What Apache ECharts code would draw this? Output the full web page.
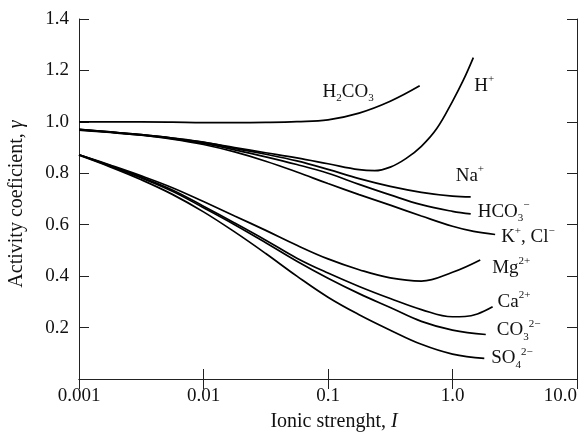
<!DOCTYPE html>
<html>
<head>
<meta charset="utf-8">
<script src="https://cdn.jsdelivr.net/npm/echarts@6/dist/echarts.min.js"></script>
<style>html,body{margin:0;padding:0;background:#fff;}#c{width:579px;height:432px;}</style>
</head>
<body>
<div id="c"></div>
<script>
// x tick labels (log axis decades)
const xTickValues = [0.001, 0.01, 0.1, 1, 10];
const xTickLabels = ['0.001', '0.01', '0.1', '1.0', '10.0'];

// Ionic strength (I) and activity coefficient (gamma) per species
const I_H2CO3 = [0.001, 0.001778, 0.003162, 0.005623, 0.01, 0.01778, 0.03162, 0.05623, 0.1, 0.1778, 0.3162, 0.545];
const G_H2CO3 = [1.0, 1.0, 1.0, 0.999, 0.997, 0.997, 0.998, 1.001, 1.008, 1.034, 1.08, 1.14];

const I_H = [0.001, 0.001778, 0.003162, 0.005623, 0.01, 0.01778, 0.03162, 0.05623, 0.1, 0.1778, 0.237, 0.3162, 0.422, 0.5623, 0.75, 1.0, 1.216, 1.47];
const G_H = [0.971, 0.961, 0.95, 0.937, 0.92, 0.9, 0.88, 0.86, 0.837, 0.814, 0.81, 0.824, 0.857, 0.905, 0.975, 1.08, 1.16, 1.25];

const I_Na = [0.001, 0.001778, 0.003162, 0.005623, 0.01, 0.01778, 0.03162, 0.05623, 0.1, 0.1778, 0.3162, 0.5623, 1.0, 1.4];
const G_Na = [0.971, 0.961, 0.95, 0.937, 0.921, 0.897, 0.874, 0.848, 0.815, 0.779, 0.749, 0.726, 0.711, 0.708];

const I_HCO3 = [0.001, 0.001778, 0.003162, 0.005623, 0.01, 0.01778, 0.03162, 0.05623, 0.1, 0.1778, 0.3162, 0.5623, 1.0, 1.4];
const G_HCO3 = [0.97, 0.96, 0.949, 0.935, 0.916, 0.891, 0.864, 0.834, 0.80, 0.757, 0.716, 0.678, 0.652, 0.642];

const I_KCl = [0.001, 0.001778, 0.003162, 0.005623, 0.01, 0.01778, 0.03162, 0.05623, 0.1, 0.1778, 0.3162, 0.5623, 1.0, 1.479, 2.2];
const G_KCl = [0.968, 0.959, 0.948, 0.933, 0.912, 0.883, 0.847, 0.805, 0.76, 0.717, 0.676, 0.634, 0.594, 0.574, 0.562];

const I_Mg = [0.001, 0.001778, 0.003162, 0.005623, 0.01, 0.01778, 0.03162, 0.05623, 0.1, 0.1778, 0.3162, 0.5623, 1.0, 1.67];
const G_Mg = [0.872, 0.832, 0.79, 0.744, 0.69, 0.634, 0.578, 0.52, 0.467, 0.425, 0.393, 0.381, 0.415, 0.463];

const I_Ca = [0.001, 0.001778, 0.003162, 0.005623, 0.01, 0.01778, 0.03162, 0.05623, 0.1, 0.1778, 0.3162, 0.5623, 1.0, 1.26, 1.585, 2.1];
const G_Ca = [0.872, 0.83, 0.785, 0.735, 0.672, 0.607, 0.54, 0.47, 0.412, 0.36, 0.313, 0.27, 0.242, 0.243, 0.253, 0.281];

const I_CO3 = [0.001, 0.001778, 0.003162, 0.005623, 0.01, 0.01778, 0.03162, 0.05623, 0.1, 0.1778, 0.3162, 0.5623, 1.0, 1.85];
const G_CO3 = [0.872, 0.828, 0.782, 0.73, 0.666, 0.6, 0.53, 0.458, 0.392, 0.332, 0.278, 0.224, 0.19, 0.173];

const I_SO4 = [0.001, 0.001778, 0.003162, 0.005623, 0.01, 0.01778, 0.03162, 0.05623, 0.1, 0.1778, 0.3162, 0.5623, 1.0, 1.8];
const G_SO4 = [0.87, 0.825, 0.775, 0.718, 0.65, 0.572, 0.488, 0.4, 0.318, 0.25, 0.19, 0.135, 0.097, 0.08];

const FONT = '"Liberation Serif", "Times New Roman", serif';
const FS = 19;
const NFS = 20;

const rich = {
  t: { fontFamily: FONT, fontSize: 19, color: '#111', lineHeight: 24, verticalAlign: 'middle' },
  sub: { fontFamily: FONT, fontSize: 11, color: '#111', lineHeight: 11, verticalAlign: 'bottom' },
  sup: { fontFamily: FONT, fontSize: 11, color: '#111', lineHeight: 11, verticalAlign: 'top' }
};

function zip(xs, ys) { return xs.map((x, i) => [x, ys[i]]); }

function mk(name, xs, ys, label, offset, align) {
  return {
    name: name,
    type: 'line',
    data: zip(xs, ys),
    smooth: 0.4,
    showSymbol: false,
    symbol: 'none',
    lineStyle: { color: '#000', width: 1.7 },
    xAxisIndex: 0, yAxisIndex: 0,
    silent: true,
    endLabel: {
      show: true,
      formatter: label,
      offset: offset,
      align: align || 'left',
      distance: 4,
      rich: rich
    }
  };
}

const chart = echarts.init(document.getElementById('c'), null, { renderer: 'canvas' });

const axisLineStyle = { color: '#222', width: 1 };

chart.setOption({
  animation: false,
  backgroundColor: '#fff',
  grid: { left: 79, right: 2, top: 19, bottom: 53, containLabel: false, outerBoundsMode: 'none' },
  xAxis: [
    {
      type: 'log', logBase: 10, min: 0.001, max: 10,
      position: 'bottom',
      name: '{a|Ionic strenght, }{i|I}',
      nameLocation: 'middle', nameGap: 33,
      nameTextStyle: {
        padding: [0, 0, 0, 12],
        rich: {
          a: { fontFamily: FONT, fontSize: NFS, color: '#111' },
          i: { fontFamily: FONT, fontSize: NFS, color: '#111', fontStyle: 'italic' }
        }
      },
      axisLine: { show: true, lineStyle: axisLineStyle },
      axisTick: { show: true, inside: true, length: 10, lineStyle: axisLineStyle },
      minorTick: { show: false },
      splitLine: { show: false },
      axisLabel: {
        fontFamily: FONT, fontSize: FS, color: '#111', margin: 8,
        alignMaxLabel: 'right',
        formatter: function (v) {
          for (let k = 0; k < xTickValues.length; k++) {
            if (Math.abs(Math.log10(v) - Math.log10(xTickValues[k])) < 1e-6) return xTickLabels[k];
          }
          return '';
        }
      }
    },
    {
      type: 'log', logBase: 10, min: 0.001, max: 10,
      position: 'top',
      axisLine: { show: true, lineStyle: axisLineStyle },
      axisTick: { show: true, inside: true, length: 10, lineStyle: axisLineStyle },
      axisLabel: { show: false },
      splitLine: { show: false }
    }
  ],
  yAxis: [
    {
      type: 'value', min: 0, max: 1.4, interval: 0.2,
      position: 'left',
      name: '{a|Activity coeficient, }{i|γ}',
      nameLocation: 'middle', nameGap: 52, nameRotate: 90,
      nameTextStyle: {
        padding: [0, 10, 0, 0],
        rich: {
          a: { fontFamily: FONT, fontSize: NFS, color: '#111' },
          i: { fontFamily: FONT, fontSize: NFS, color: '#111', fontStyle: 'italic' }
        }
      },
      axisLine: { show: true, lineStyle: axisLineStyle },
      axisTick: { show: true, inside: true, length: 10, lineStyle: axisLineStyle },
      splitLine: { show: false },
      axisLabel: {
        fontFamily: FONT, fontSize: FS, color: '#111', margin: 10,
        formatter: function (v) { return v === 0 ? '' : v.toFixed(1); }
      }
    },
    {
      type: 'value', min: 0, max: 1.4, interval: 0.2,
      position: 'right',
      axisLine: { show: true, lineStyle: axisLineStyle },
      axisTick: { show: true, inside: true, length: 10, lineStyle: axisLineStyle },
      axisLabel: { show: false },
      splitLine: { show: false }
    }
  ],
  series: [
    mk('H2CO3', I_H2CO3, G_H2CO3, '{t|H}{sub|2}{t|CO}{sub|3}', [-50, 6], 'right'),
    mk('H+', I_H, G_H, '{t|H}{sup|+}', [-3, 28]),
    mk('Na+', I_Na, G_Na, '{t|Na}{sup|+}', [-19, -21]),
    mk('HCO3-', I_HCO3, G_HCO3, '{t|HCO}{sub|3}{sup|−}', [3, -2]),
    mk('K+, Cl-', I_KCl, G_KCl, '{t|K}{sup|+}{t|, Cl}{sup|−}', [2, 3]),
    mk('Mg2+', I_Mg, G_Mg, '{t|Mg}{sup|2+}', [8, 8]),
    mk('Ca2+', I_Ca, G_Ca, '{t|Ca}{sup|2+}', [1, -5]),
    mk('CO3 2-', I_CO3, G_CO3, '{t|CO}{sub|3}{sup|2−}', [7, -4]),
    mk('SO4 2-', I_SO4, G_SO4, '{t|SO}{sub|4}{sup|2−}', [3, 0])
  ]
});
</script>
</body>
</html>
